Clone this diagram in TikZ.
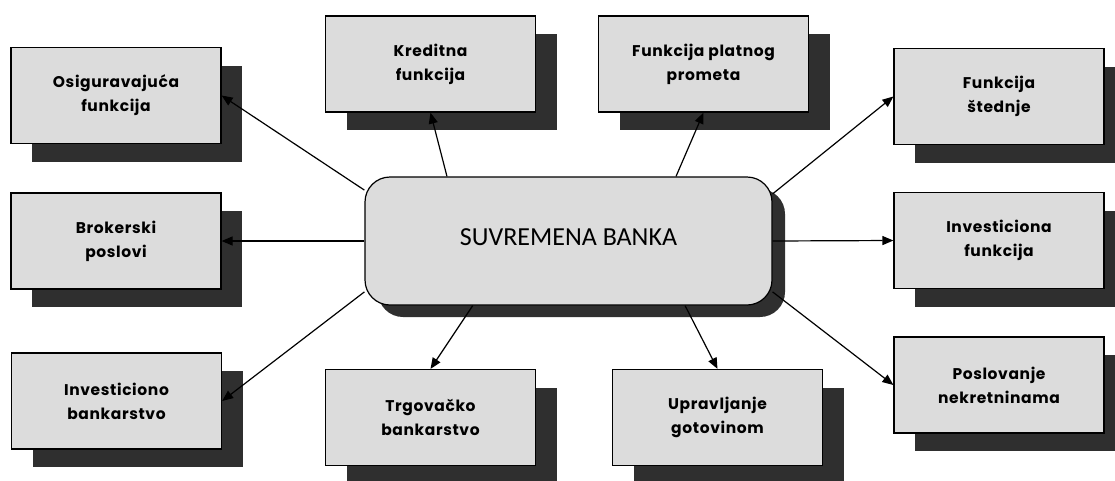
\documentclass[tikz,border=0pt]{standalone}
\usepackage{fontspec}
\setmainfont{Poppins}[LetterSpace=4]
\newfontfamily\hubfont{Carlito}
\usetikzlibrary{arrows.meta,shadows}
\definecolor{boxgray}{HTML}{DCDCDC}
\definecolor{shadegray}{HTML}{2F2F2F}
\tikzset{
  box/.style={draw, line width=1.2pt, fill=boxgray,
    minimum width=210pt, minimum height=96pt, align=center,
    font=\fontsize{15.5}{24}\selectfont\bfseries,
    drop shadow={shadow xshift=21pt, shadow yshift=-18pt, fill=shadegray, opacity=1}},
  hub/.style={draw, line width=1.2pt, fill=boxgray, rounded corners=25pt,
    minimum width=407pt, minimum height=128pt,
    font=\hubfont\fontsize{26}{30}\selectfont,
    drop shadow={shadow xshift=13pt, shadow yshift=-12pt, fill=shadegray, opacity=1}},
  link/.style={-{Triangle[length=11pt,width=9pt]}, line width=1.2pt}
}
\begin{document}
\begin{tikzpicture}[x=1pt,y=-1pt]
      \useasboundingbox (0,0) rectangle (1115,480);
      \node[hub] (bank) at (568.5,241) {\raisebox{7pt}{SUVREMENA BANKA}};
      \node[box] (osig) at (116,95.5) {Osiguravajuća\\funkcija};
      \node[box] (brok) at (116,241) {Brokerski\\poslovi};
      \node[box] (ibank) at (116.5,401) {Investiciono\\bankarstvo};
      \node[box] (kred) at (430.5,64) {Kreditna\\funkcija};
      \node[box] (plat) at (703.5,64) {Funkcija platnog\\prometa};
      \node[box] (sted) at (999,96.5) {Funkcija\\štednje};
      \node[box] (inv) at (999,240.5) {Investiciona\\funkcija};
      \node[box] (posl) at (999,385) {Poslovanje\\nekretninama};
      \node[box] (trg) at (430.5,417.5) {Trgovačko\\bankarstvo};
      \node[box] (upr) at (717.5,417.5) {Upravljanje\\gotovinom};
      \begin{scope}[link]
        \draw (bank.166) to (osig.east);
        \draw (bank.west) to (brok.east);
        \draw (bank.194) to (ibank.east);
        \draw (bank.152) to (kred.south);
        \draw (bank.31.5) to (plat.south);
        \draw (bank.13.3) to (sted.west);
        \draw (bank.east) to (inv.west);
        \draw (bank.346) to (posl.west);
        \draw (bank.214) to (trg.north);
        \draw (bank.331) to (upr.north);
      \end{scope}
    \end{tikzpicture}
\end{document}
